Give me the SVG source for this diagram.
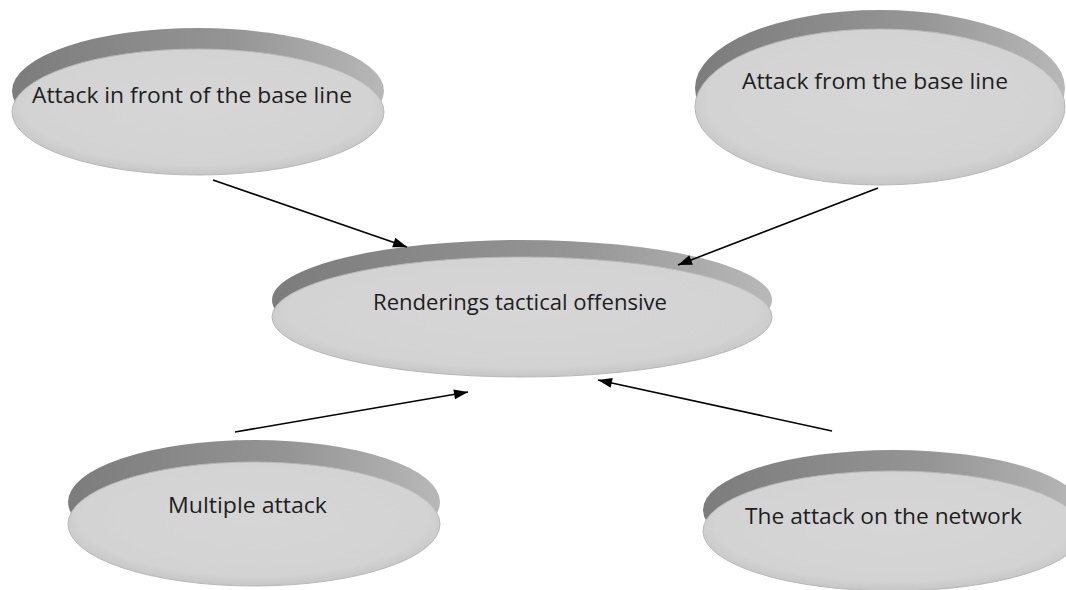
<svg xmlns="http://www.w3.org/2000/svg" width="1066" height="590" viewBox="0 0 1066 590">
  <defs>
    <linearGradient id="rim" x1="0" y1="0" x2="1" y2="0">
      <stop offset="0" stop-color="#7c7c7c"/>
      <stop offset="0.6" stop-color="#959595"/>
      <stop offset="1" stop-color="#b8b8b8"/>
    </linearGradient>
    <radialGradient id="face" cx="0.5" cy="0.45" r="0.55">
      <stop offset="0" stop-color="#d6d6d6"/>
      <stop offset="0.85" stop-color="#d3d3d3"/>
      <stop offset="1" stop-color="#c6c6c6"/>
    </radialGradient>
    <marker id="arrow" viewBox="0 0 14 10" refX="14" refY="5" markerWidth="14" markerHeight="10" markerUnits="userSpaceOnUse" orient="auto" overflow="visible">
      <path d="M0,0 L14,5 L0,10 z" fill="#000"/>
    </marker>
  </defs>
  <style>
    .rim { fill: url(#rim); }
    .face { fill: url(#face); stroke: #b8b8b8; stroke-width: 1; }
    .lbl { font-family: "Open Sans", "Liberation Sans", Arial, sans-serif; font-size: 21px; fill: #1e1e1e; text-anchor: middle; }
    .conn { stroke: #000; stroke-width: 1.6; fill: none; }
  </style>
  <rect width="1066" height="590" fill="#ffffff"/>

  <g id="node-front-base-line">
    <ellipse class="rim" cx="198" cy="91" rx="186" ry="63"/>
    <ellipse class="face" cx="198" cy="112" rx="186" ry="63"/>
    <text class="lbl" x="192" y="103" textLength="320" lengthAdjust="spacingAndGlyphs">Attack in front of the base line</text>
  </g>

  <g id="node-from-base-line">
    <ellipse class="rim" cx="880" cy="88" rx="185" ry="78"/>
    <ellipse class="face" cx="880" cy="107" rx="185" ry="78"/>
    <text class="lbl" x="875" y="89" textLength="266" lengthAdjust="spacingAndGlyphs">Attack from the base line</text>
  </g>

  <g id="node-center">
    <ellipse class="rim" cx="522" cy="300" rx="250" ry="60"/>
    <ellipse class="face" cx="522" cy="317" rx="250" ry="60"/>
    <text class="lbl" x="520" y="310" textLength="294" lengthAdjust="spacingAndGlyphs">Renderings tactical offensive</text>
  </g>

  <g id="node-multiple">
    <ellipse class="rim" cx="254" cy="502" rx="186" ry="62"/>
    <ellipse class="face" cx="254" cy="524" rx="186" ry="62"/>
    <text class="lbl" x="247.5" y="513" textLength="159" lengthAdjust="spacingAndGlyphs">Multiple attack</text>
  </g>

  <g id="node-network">
    <ellipse class="rim" cx="893" cy="510" rx="190" ry="60"/>
    <ellipse class="face" cx="893" cy="531" rx="190" ry="60"/>
    <text class="lbl" x="883.5" y="524" textLength="277" lengthAdjust="spacingAndGlyphs">The attack on the network</text>
  </g>

  <g id="connectors">
    <line class="conn" x1="213" y1="180" x2="407" y2="247" marker-end="url(#arrow)"/>
    <line class="conn" x1="878" y1="188" x2="678" y2="265" marker-end="url(#arrow)"/>
    <line class="conn" x1="235" y1="432" x2="468" y2="392" marker-end="url(#arrow)"/>
    <line class="conn" x1="832" y1="431" x2="598" y2="380" marker-end="url(#arrow)"/>
  </g>
</svg>
